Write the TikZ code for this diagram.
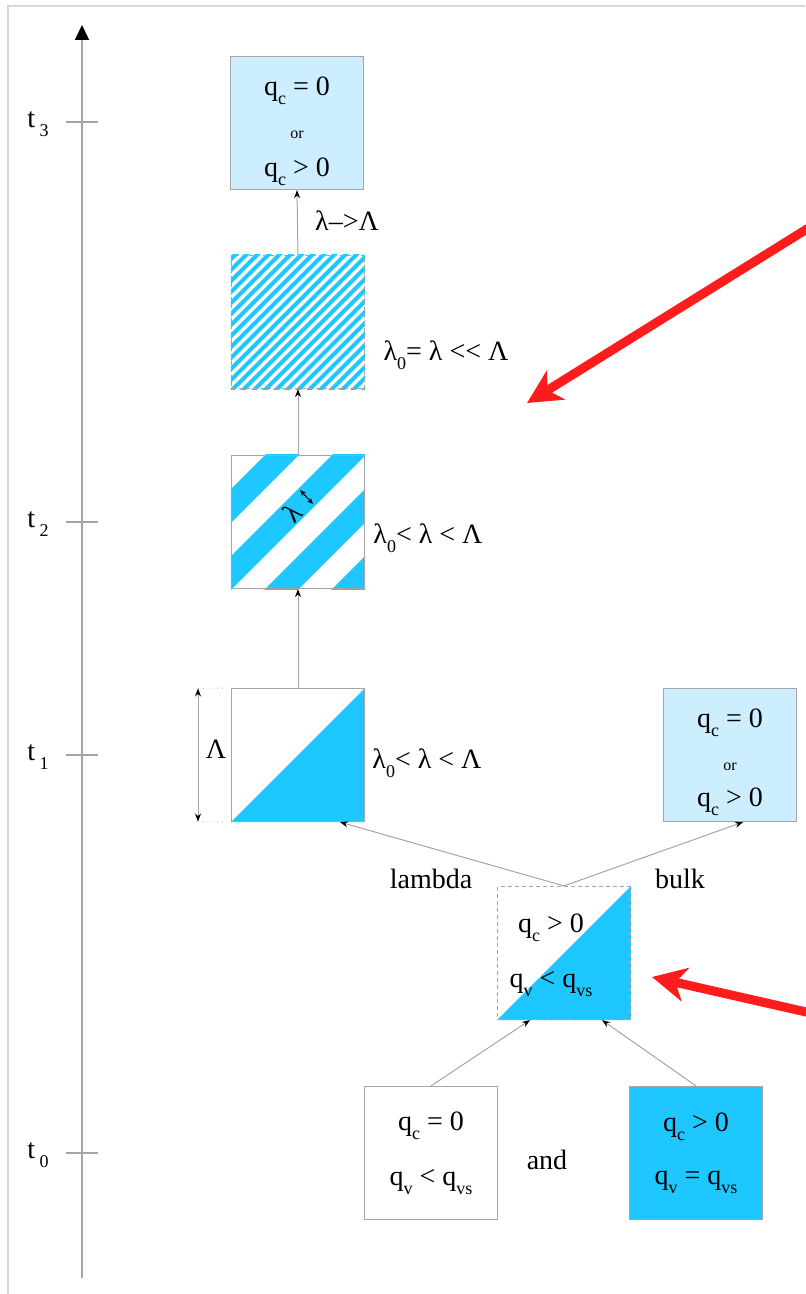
\documentclass[tikz,border=0pt]{standalone}
\usepackage{fontspec}
\setmainfont{Liberation Serif}
\usetikzlibrary{arrows.meta,positioning,backgrounds}

\definecolor{cellblue}{RGB}{30,199,255}
\definecolor{paleblue}{RGB}{204,238,255}
\definecolor{framegray}{RGB}{165,165,165}
\definecolor{sheetgray}{RGB}{215,215,215}
\definecolor{alertred}{RGB}{255,28,28}

\newcommand{\lowsub}[1]{\raisebox{-0.7ex}{\fontsize{9}{10}\selectfont #1}}
\newcommand{\orword}{{\fontsize{8}{9}\selectfont or}}

\tikzset{
  cell/.style={draw=framegray, line width=0.6pt, minimum width=66.5pt, minimum height=66.5pt,
    inner sep=0pt, align=center, font=\fontsize{14}{17}\selectfont},
  dashcell/.style={cell, dash pattern=on 2pt off 1.5pt},
  txt/.style={inner sep=0pt, font=\fontsize{14}{17}\selectfont},
  flow/.style={draw=framegray, line width=0.5pt, -{Stealth[color=black,length=4pt,width=3pt]}},
  axisline/.style={draw=framegray, line width=0.8pt},
  redarrow/.style={draw=alertred, line width=4.5pt, -{Stealth[length=17pt,width=17pt,inset=5pt]}},
}

\begin{document}
\begin{tikzpicture}[x=0.5pt,y=-0.5pt]
\useasboundingbox (0,0) rectangle (805,1294);
% sheet edge
\draw[sheetgray, line width=1pt] (8,1294) -- (8,6) -- (805,6);

% time axis
\coordinate (axisfoot) at (82,1278);
\coordinate (axishead) at (82,25);
\draw[axisline, -{Triangle[color=black,length=7.5pt,width=7pt]}] (axisfoot) -- (axishead);
\foreach \k/\y in {0/1153,1/755,2/522,3/122}{
  \draw[axisline] (66,\y) -- (98,\y);
  \node[txt] (t\k) at (38,\y+2) {t\,\lowsub{\k}};
}

% states
\node[cell, fill=paleblue] (final) at (297,123) {};
\node[txt, align=center] (finaltxt) at (297,131) {q\lowsub{c} = 0\\[4.5pt]\orword\\[2pt]q\lowsub{c} > 0};
\node[dashcell] (fine) at (298,322) {};
\node[cell] (coarse) at (298,522) {};
\node[cell] (split) at (298,755) {};
\node[cell, fill=paleblue] (bulkstate) at (730,755) {};
\node[txt, align=center] (bulktxt) at (730,762) {q\lowsub{c} = 0\\[4.5pt]\orword\\[1pt]q\lowsub{c} > 0};
\node[dashcell] (mixed) at (564,953) {};
\node[cell] (clear) at (431,1153) {q\lowsub{c} = 0\\[10.5pt]q\lowsub{v} < q\lowsub{vs}};
\node[cell, fill=cellblue] (cloud) at (696,1153) {q\lowsub{c} > 0\\[9.5pt]q\lowsub{v} = q\lowsub{vs}};

% stripes and halves
\begin{scope}[on background layer]
  \begin{scope}
    \clip (fine.south west) rectangle (fine.north east);
    \foreach \s in {490,501,...,765} \draw[cellblue, line width=2.1pt] (150,\s-150) -- (450,\s-450);
  \end{scope}
  \begin{scope}
    \clip (coarse.south west) rectangle (coarse.north east);
    \foreach \s in {737,804,871,938} \draw[cellblue, line width=12pt] (150,\s-150) -- (450,\s-450);
  \end{scope}
  \fill[cellblue] (split.south west) -- (split.north east) -- (split.south east) -- cycle;
  \fill[cellblue] (mixed.south west) -- (mixed.north east) -- (mixed.south east) -- cycle;
\end{scope}

% stripe width
\coordinate (lamA) at (300,490);
\coordinate (lamB) at (313,504);
\draw[line width=0.5pt, {Stealth[length=3pt,width=2.5pt]}-{Stealth[length=3pt,width=2.5pt]}] (lamA) -- (lamB);
\node[txt, rotate=45] (lam) at (292,513) {λ};

% scale of the cell
\coordinate (dimtop) at (198,688.5);
\coordinate (dimbot) at (198,821.5);
\draw[framegray, line width=0.5pt, {Stealth[color=black,length=4pt,width=3pt]}-{Stealth[color=black,length=4pt,width=3pt]}] (dimtop) -- (dimbot);
\draw[framegray, dotted] (dimtop) -- (split.north west);
\draw[framegray, dotted] (dimbot) -- (split.south west);
\node[txt] (bigL) at (216,749) {Λ};

% labels
\node[txt] (growlabel) at (347,221) {λ\textendash{}>Λ};
\node[txt] (finelabel) at (446,355) {λ\lowsub{0}= λ <{}< Λ};
\node[txt] (coarselabel) at (428,538) {λ\lowsub{0}< λ < Λ};
\node[txt] (splitlabel) at (427,763) {λ\lowsub{0}< λ < Λ};
\node[txt] (lamword) at (431,879) {lambda};
\node[txt] (bulkword) at (680,879) {bulk};
\node[txt] (andword) at (547,1160) {and};
\node[txt, align=center] (mixedtxt) at (551,955) {q\lowsub{c} > 0\\[10.5pt]q\lowsub{v} < q\lowsub{vs}};

% connectors
\draw[flow] (fine.north) -- (final.south);
\draw[flow] (coarse.north) -- (fine.south);
\draw[flow] (split.north) -- (coarse.south);
\draw[flow] (mixed.north) -- ([xshift=21pt]split.south);
\draw[flow] (mixed.north) -- ([xshift=6.5pt]bulkstate.south);
\draw[flow] (clear.north) -- ([xshift=-17pt]mixed.south);
\draw[flow] (cloud.north) -- ([xshift=19pt]mixed.south);

% red pointers
\coordinate (redtailA) at (815,224);
\coordinate (redtipA) at (527,403);
\coordinate (redtailB) at (815,1014);
\coordinate (redtipB) at (652,977);
\draw[redarrow] (redtailA) -- (redtipA);
\draw[redarrow] (redtailB) -- (redtipB);
\end{tikzpicture}
\end{document}
